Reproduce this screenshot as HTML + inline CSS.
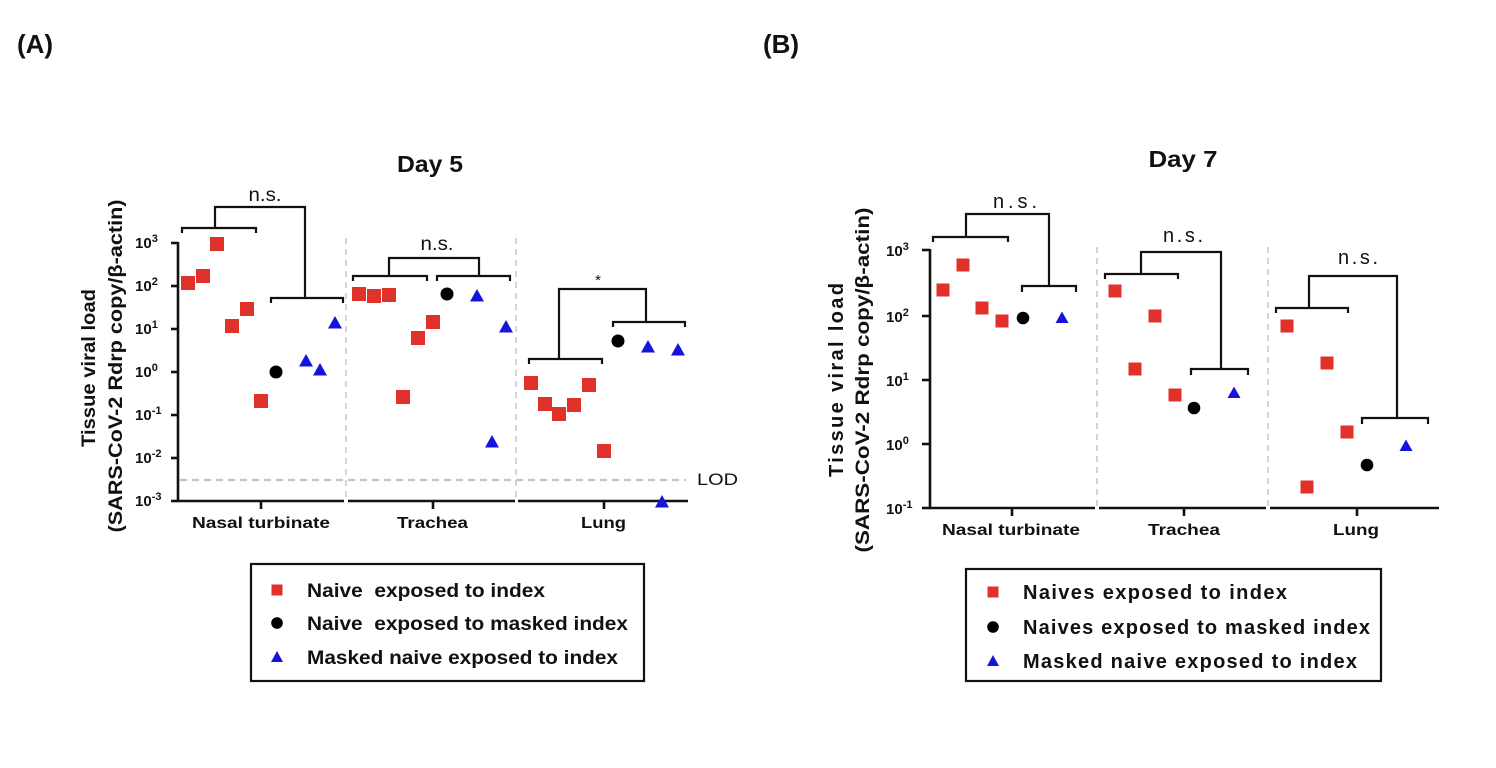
<!DOCTYPE html>
<html><head><meta charset="utf-8"><style>
html,body{margin:0;padding:0;background:#fff;width:1496px;height:768px;overflow:hidden}
svg{display:block}
text{font-family:"Liberation Sans",Arial,sans-serif;fill:#111}
.b{font-weight:bold}
</style></head><body>
<svg width="1496" height="768" viewBox="0 0 1496 768" xmlns="http://www.w3.org/2000/svg">
<defs>
<g id="sqA"><rect x="-7" y="-7" width="14" height="14" fill="#e0312a"/></g>
<g id="ciA"><circle r="6.5" fill="#000"/></g>
<g id="trA"><polygon points="0,-7 7,5.5 -7,5.5" fill="#1414dc"/></g>
<g id="sqB"><rect x="-6.5" y="-6.5" width="13" height="13" fill="#e0312a"/></g>
<g id="ciB"><circle r="6.3" fill="#000"/></g>
<g id="trB"><polygon points="0,-6.5 6.5,5 -6.5,5" fill="#1414dc"/></g>
</defs>

<!-- Panel labels -->
<text x="17" y="53" class="b" font-size="26">(A)</text>
<text x="763" y="53" class="b" font-size="26">(B)</text>

<!-- ================= PANEL A ================= -->
<text x="430" y="172" class="b" font-size="23" text-anchor="middle" textLength="66" lengthAdjust="spacingAndGlyphs">Day 5</text>

<!-- y label -->
<text transform="translate(95,368) rotate(-90)" class="b" font-size="19" text-anchor="middle" textLength="158" lengthAdjust="spacingAndGlyphs">Tissue viral load</text>
<text transform="translate(122,366) rotate(-90)" class="b" font-size="19" text-anchor="middle" textLength="333" lengthAdjust="spacingAndGlyphs">(SARS-CoV-2 Rdrp copy/β-actin)</text>

<!-- dashed lines -->
<g stroke="#c9c9c9" stroke-width="1.6" stroke-dasharray="6,5" fill="none">
<line x1="346" y1="238" x2="346" y2="501"/>
<line x1="516" y1="238" x2="516" y2="501"/>
</g>
<line x1="180" y1="480" x2="686" y2="480" stroke="#c3c3c3" stroke-width="2.2" stroke-dasharray="7,5"/>
<text x="697" y="485" font-size="17" textLength="41" lengthAdjust="spacingAndGlyphs">LOD</text>

<!-- axes -->
<g stroke="#111" stroke-width="2.6" fill="none">
<line x1="178" y1="242" x2="178" y2="502"/>
<line x1="177" y1="501" x2="344" y2="501"/>
<line x1="348" y1="501" x2="515" y2="501"/>
<line x1="518" y1="501" x2="688" y2="501"/>
<line x1="171" y1="243" x2="178" y2="243"/>
<line x1="171" y1="286" x2="178" y2="286"/>
<line x1="171" y1="329" x2="178" y2="329"/>
<line x1="171" y1="372" x2="178" y2="372"/>
<line x1="171" y1="415" x2="178" y2="415"/>
<line x1="171" y1="458" x2="178" y2="458"/>
<line x1="171" y1="501" x2="178" y2="501"/>
<line x1="261" y1="501" x2="261" y2="509"/>
<line x1="433" y1="501" x2="433" y2="509"/>
<line x1="604" y1="501" x2="604" y2="509"/>
</g>
<!-- y tick labels A -->
<g>
<text x="135" y="248" font-weight="bold" font-size="15">10<tspan font-size="11" dy="-6">3</tspan></text>
<text x="135" y="291" font-weight="bold" font-size="15">10<tspan font-size="11" dy="-6">2</tspan></text>
<text x="135" y="334" font-weight="bold" font-size="15">10<tspan font-size="11" dy="-6">1</tspan></text>
<text x="135" y="377" font-weight="bold" font-size="15">10<tspan font-size="11" dy="-6">0</tspan></text>
<text x="135" y="420" font-weight="bold" font-size="15">10<tspan font-size="11" dy="-6">-1</tspan></text>
<text x="135" y="463" font-weight="bold" font-size="15">10<tspan font-size="11" dy="-6">-2</tspan></text>
<text x="135" y="506" font-weight="bold" font-size="15">10<tspan font-size="11" dy="-6">-3</tspan></text>
</g>
<!-- category labels A -->
<text x="192" y="528" class="b" font-size="16" textLength="138" lengthAdjust="spacingAndGlyphs">Nasal turbinate</text>
<text x="397" y="528" class="b" font-size="16" textLength="71" lengthAdjust="spacingAndGlyphs">Trachea</text>
<text x="581" y="528" class="b" font-size="16" textLength="45" lengthAdjust="spacingAndGlyphs">Lung</text>

<!-- brackets A -->
<g stroke="#111" stroke-width="2.2" fill="none">
<path d="M182,233 V228 H256 V233"/>
<path d="M215,228 V207 H305 V298"/>
<path d="M271,303 V298 H343 V303"/>
<path d="M353,281 V276 H427 V281"/>
<path d="M437,281 V276 H510 V281"/>
<path d="M389,276 V258 H479 V276"/>
<path d="M529,364 V359 H602 V364"/>
<path d="M559,359 V289 H646 V322"/>
<path d="M613,327 V322 H685 V327"/>
</g>
<text x="265" y="201" font-size="19" text-anchor="middle" textLength="33" lengthAdjust="spacingAndGlyphs">n.s.</text>
<text x="437" y="250" font-size="19" text-anchor="middle" textLength="33" lengthAdjust="spacingAndGlyphs">n.s.</text>
<text x="598" y="285" font-size="15" text-anchor="middle">*</text>

<!-- data A -->
<use href="#sqA" x="188" y="283"/>
<use href="#sqA" x="203" y="276"/>
<use href="#sqA" x="217" y="244"/>
<use href="#sqA" x="232" y="326"/>
<use href="#sqA" x="247" y="309"/>
<use href="#sqA" x="261" y="401"/>
<use href="#ciA" x="276" y="372"/>
<use href="#trA" x="306" y="361"/>
<use href="#trA" x="320" y="370"/>
<use href="#trA" x="335" y="323"/>

<use href="#sqA" x="359" y="294"/>
<use href="#sqA" x="374" y="296"/>
<use href="#sqA" x="389" y="295"/>
<use href="#sqA" x="403" y="397"/>
<use href="#sqA" x="418" y="338"/>
<use href="#sqA" x="433" y="322"/>
<use href="#ciA" x="447" y="294"/>
<use href="#trA" x="477" y="296"/>
<use href="#trA" x="492" y="442"/>
<use href="#trA" x="506" y="327"/>

<use href="#sqA" x="531" y="383"/>
<use href="#sqA" x="545" y="404"/>
<use href="#sqA" x="559" y="414"/>
<use href="#sqA" x="574" y="405"/>
<use href="#sqA" x="589" y="385"/>
<use href="#sqA" x="604" y="451"/>
<use href="#ciA" x="618" y="341"/>
<use href="#trA" x="648" y="347"/>
<use href="#trA" x="678" y="350"/>
<use href="#trA" x="662" y="502"/>

<!-- legend A -->
<rect x="251" y="564" width="393" height="117" fill="none" stroke="#111" stroke-width="2.2"/>
<rect x="271.5" y="584.5" width="11" height="11" fill="#e0312a"/>
<circle cx="277" cy="623" r="5.8" fill="#000"/>
<polygon points="277,651 283,662 271,662" fill="#1414dc"/>
<text x="307" y="597" class="b" font-size="19" textLength="238" lengthAdjust="spacingAndGlyphs" xml:space="preserve">Naive  exposed to index</text>
<text x="307" y="630" class="b" font-size="19" textLength="321" lengthAdjust="spacingAndGlyphs" xml:space="preserve">Naive  exposed to masked index</text>
<text x="307" y="664" class="b" font-size="19" textLength="311" lengthAdjust="spacingAndGlyphs">Masked naive exposed to index</text>

<!-- ================= PANEL B ================= -->
<text x="1183" y="167" class="b" font-size="23" text-anchor="middle" textLength="69" lengthAdjust="spacingAndGlyphs">Day 7</text>

<text transform="translate(843,380) rotate(-90)" class="b" font-size="20" text-anchor="middle" textLength="194" lengthAdjust="spacing">Tissue viral load</text>
<text transform="translate(869,380) rotate(-90)" class="b" font-size="19" text-anchor="middle" textLength="345" lengthAdjust="spacingAndGlyphs">(SARS-CoV-2 Rdrp copy/β-actin)</text>

<g stroke="#c9c9c9" stroke-width="1.6" stroke-dasharray="6,5" fill="none">
<line x1="1097" y1="247" x2="1097" y2="508"/>
<line x1="1268" y1="247" x2="1268" y2="508"/>
</g>

<g stroke="#111" stroke-width="2.6" fill="none">
<line x1="930" y1="249" x2="930" y2="509"/>
<line x1="929" y1="508" x2="1095" y2="508"/>
<line x1="1099" y1="508" x2="1266" y2="508"/>
<line x1="1270" y1="508" x2="1439" y2="508"/>
<line x1="922" y1="250" x2="930" y2="250"/>
<line x1="922" y1="316" x2="930" y2="316"/>
<line x1="922" y1="380" x2="930" y2="380"/>
<line x1="922" y1="444" x2="930" y2="444"/>
<line x1="922" y1="508" x2="930" y2="508"/>
<line x1="1012" y1="508" x2="1012" y2="516"/>
<line x1="1184" y1="508" x2="1184" y2="516"/>
<line x1="1357" y1="508" x2="1357" y2="516"/>
</g>
<g>
<text x="886" y="256" font-weight="bold" font-size="15">10<tspan font-size="11" dy="-6">3</tspan></text>
<text x="886" y="322" font-weight="bold" font-size="15">10<tspan font-size="11" dy="-6">2</tspan></text>
<text x="886" y="386" font-weight="bold" font-size="15">10<tspan font-size="11" dy="-6">1</tspan></text>
<text x="886" y="450" font-weight="bold" font-size="15">10<tspan font-size="11" dy="-6">0</tspan></text>
<text x="886" y="514" font-weight="bold" font-size="15">10<tspan font-size="11" dy="-6">-1</tspan></text>
</g>
<text x="942" y="535" class="b" font-size="16" textLength="138" lengthAdjust="spacingAndGlyphs">Nasal turbinate</text>
<text x="1148" y="535" class="b" font-size="16" textLength="72" lengthAdjust="spacingAndGlyphs">Trachea</text>
<text x="1333" y="535" class="b" font-size="16" textLength="46" lengthAdjust="spacingAndGlyphs">Lung</text>

<g stroke="#111" stroke-width="2.2" fill="none">
<path d="M933,242 V237 H1008 V242"/>
<path d="M966,237 V214 H1049 V286"/>
<path d="M1022,292 V286 H1076 V292"/>
<path d="M1105,279 V274 H1178 V279"/>
<path d="M1141,274 V252 H1221 V369"/>
<path d="M1191,375 V369 H1248 V375"/>
<path d="M1276,313 V308 H1348 V313"/>
<path d="M1309,308 V276 H1397 V418"/>
<path d="M1362,424 V418 H1428 V424"/>
</g>
<text x="1015" y="208" font-size="20" text-anchor="middle" textLength="44" lengthAdjust="spacing">n.s.</text>
<text x="1183" y="242" font-size="20" text-anchor="middle" textLength="40" lengthAdjust="spacing">n.s.</text>
<text x="1358" y="264" font-size="20" text-anchor="middle" textLength="40" lengthAdjust="spacing">n.s.</text>

<use href="#sqB" x="943" y="290"/>
<use href="#sqB" x="963" y="265"/>
<use href="#sqB" x="982" y="308"/>
<use href="#sqB" x="1002" y="321"/>
<use href="#ciB" x="1023" y="318"/>
<use href="#trB" x="1062" y="318"/>

<use href="#sqB" x="1115" y="291"/>
<use href="#sqB" x="1155" y="316"/>
<use href="#sqB" x="1135" y="369"/>
<use href="#sqB" x="1175" y="395"/>
<use href="#ciB" x="1194" y="408"/>
<use href="#trB" x="1234" y="393"/>

<use href="#sqB" x="1287" y="326"/>
<use href="#sqB" x="1327" y="363"/>
<use href="#sqB" x="1347" y="432"/>
<use href="#sqB" x="1307" y="487"/>
<use href="#ciB" x="1367" y="465"/>
<use href="#trB" x="1406" y="446"/>

<!-- legend B -->
<rect x="966" y="569" width="415" height="112" fill="none" stroke="#111" stroke-width="2.2"/>
<rect x="987.5" y="586.5" width="11" height="11" fill="#e0312a"/>
<circle cx="993" cy="627" r="5.8" fill="#000"/>
<polygon points="993,655 999,666 987,666" fill="#1414dc"/>
<text x="1023" y="599" class="b" font-size="20" textLength="264" lengthAdjust="spacing">Naives exposed to index</text>
<text x="1023" y="634" class="b" font-size="20" textLength="347" lengthAdjust="spacing">Naives exposed to masked index</text>
<text x="1023" y="668" class="b" font-size="20" textLength="334" lengthAdjust="spacing">Masked naive exposed to index</text>
</svg>
</body></html>
